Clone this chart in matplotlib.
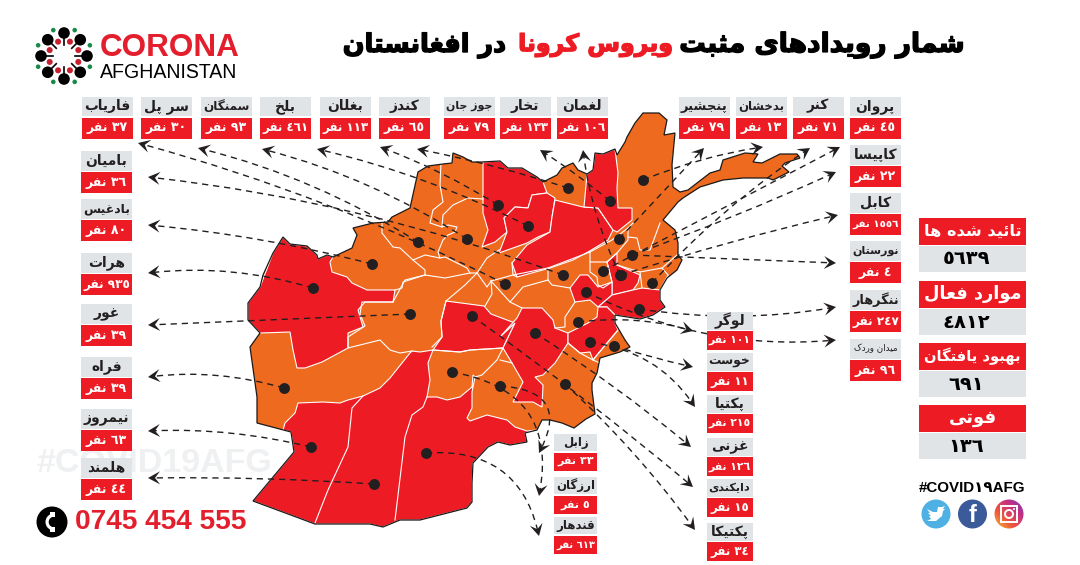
import re
import numpy as np
import matplotlib
matplotlib.use("Agg")
import matplotlib.pyplot as plt
import matplotlib.patheffects as pe
from matplotlib.colors import LinearSegmentedColormap
from matplotlib.path import Path
from matplotlib.patches import Circle, PathPatch, Polygon, Rectangle, Wedge

# ---- data ----
top_names = ['فاریاب', 'سر پل', 'سمنگان', 'بلخ', 'بغلان', 'کندز', 'جوز جان', 'تخار', 'لغمان',
             'پنجشیر', 'بدخشان', 'کنر', 'پروان']
top_cases = [37, 30, 93, 461, 113, 65, 79, 133, 106, 79, 13, 71, 45]
left_names = ['بامیان', 'بادغیس', 'هرات', 'غور', 'فراه', 'نیمروز', 'هلمند']
left_cases = [36, 80, 935, 39, 39, 63, 44]
right_names = ['کاپیسا', 'کابل', 'نورستان', 'ننگرهار', 'میدان وردک']
right_cases = [22, 1556, 4, 247, 96]
mid_names = ['لوگر', 'خوست', 'پکتیا', 'غزنی', 'دایکندی', 'پکتیکا']
mid_cases = [101, 11, 215, 126, 15, 34]
south_names = ['زابل', 'ارزگان', 'قندهار']
south_cases = [33, 5, 613]
summary_names = ['تائید شده ها', 'موارد فعال', 'بهبود یافتگان', 'فوتی']
summary_values = [5639, 4812, 691, 136]

# ---- layout, in pixels of the 1080x565 picture ----
top_x = [82, 141, 201, 260, 320, 379, 444, 500, 557, 679, 736, 793, 850]
left_y = [151, 199, 253, 304, 357, 409, 458]
right_y = [145, 193, 241, 290, 339]
mid_y = [312, 353, 395, 438, 479, 523]
south_y = [434, 477, 517]
summary_y = [218, 281, 343, 405]

RED = '#ed1c24'
ORANGE = '#ee6a1f'
GREY = '#e0e4e7'
INK = '#231f20'
GREEN = '#1a8a4a'

outline = [(248, 303), (260, 287), (263, 275), (273, 253), (283, 237), (290, 244), (307, 246), (317, 255),
           (318, 259), (327, 255), (333, 257), (352, 248), (357, 235), (353, 228), (373, 223), (388, 222),
           (392, 217), (410, 208), (418, 172), (428, 166), (443, 164), (452, 163), (453, 153), (463, 157),
           (472, 162), (482, 162), (500, 161), (508, 168), (522, 168), (537, 177), (543, 182), (557, 175),
           (562, 168), (573, 163), (578, 170), (587, 174), (593, 170), (595, 153), (603, 154), (615, 149),
           (617, 155), (625, 142), (627, 137), (635, 123), (643, 113), (659, 113), (667, 120), (664, 135),
           (675, 133), (672, 165), (673, 187), (680, 192), (688, 190), (710, 173), (720, 170), (723, 160),
           (745, 153), (758, 154), (753, 162), (762, 163), (780, 154), (797, 154), (800, 158), (785, 163),
           (782, 166), (789, 172), (773, 180), (768, 178), (743, 178), (723, 180), (700, 187), (683, 198),
           (678, 202), (663, 220), (675, 230), (678, 243), (678, 255), (682, 260), (677, 270), (667, 278),
           (660, 290), (660, 300), (665, 307), (653, 315), (640, 319), (615, 315), (615, 323), (618, 328),
           (625, 340), (630, 347), (620, 352), (600, 358), (597, 373), (592, 383), (592, 390), (595, 414),
           (586, 419), (574, 428), (562, 423), (550, 420), (542, 420), (537, 430), (525, 433), (527, 442),
           (510, 445), (498, 442), (488, 447), (473, 463), (472, 483), (472, 502), (467, 508), (420, 520),
           (400, 520), (383, 527), (370, 524), (315, 524), (253, 501), (294, 452), (291, 432), (257, 423),
           (257, 397), (250, 347), (260, 333), (248, 320)]

red_provinces = [
    # herat
    [(260, 333), (248, 320), (248, 303), (260, 287), (273, 253), (283, 237), (290, 244), (307, 246), (317, 255),
     (318, 259), (327, 255), (333, 257), (330, 262), (332, 272), (347, 277), (352, 283), (367, 290), (395, 290),
     (393, 302), (365, 302), (358, 310), (363, 327), (348, 333), (348, 348), (322, 362), (305, 368), (297, 368),
     (293, 350), (290, 332)],
    # nimroz, helmand, kandahar
    [(283, 430), (291, 432), (294, 452), (253, 501), (315, 524), (370, 524), (383, 527), (400, 520), (420, 520),
     (467, 508), (472, 502), (472, 483), (473, 463), (488, 447), (498, 442), (510, 445), (527, 442), (525, 433),
     (537, 430), (527, 431), (515, 427), (507, 420), (487, 415), (470, 421), (467, 418), (472, 408), (472, 392),
     (475, 377), (473, 375), (472, 387), (460, 397), (447, 400), (437, 397), (427, 397), (430, 380), (428, 363),
     (433, 350), (420, 352), (412, 351), (410, 353), (390, 378), (380, 388), (363, 396), (348, 400), (340, 403),
     (323, 402), (298, 403), (295, 413), (285, 423)],
    # daykundi
    [(446, 301), (484, 306), (491, 314), (515, 323), (503, 348), (470, 350), (460, 352), (433, 350), (442, 337),
     (441, 321)],
    # ghazni
    [(500, 337), (517, 318), (522, 308), (542, 308), (553, 320), (555, 328), (568, 333), (568, 343), (555, 363),
     (543, 375), (535, 377), (543, 385), (542, 407), (533, 402), (513, 402), (523, 382), (512, 363), (503, 348),
     (515, 323)],
    # balkh
    [(483, 162), (500, 161), (508, 168), (522, 168), (537, 177), (543, 182), (547, 193), (532, 195), (528, 208),
     (515, 207), (504, 218), (507, 232), (495, 242), (482, 247), (488, 230), (483, 213), (483, 193)],
    # samangan
    [(504, 218), (515, 207), (528, 208), (532, 195), (547, 193), (555, 198), (552, 217), (550, 232), (538, 237),
     (527, 243), (499, 253), (507, 232)],
    # baghlan
    [(555, 200), (563, 202), (583, 207), (598, 208), (613, 230), (608, 240), (588, 252), (573, 260), (550, 268),
     (517, 277), (512, 263), (527, 245), (550, 232), (552, 217)],
    # takhar
    [(587, 174), (593, 170), (595, 153), (603, 154), (615, 149), (618, 173), (617, 188), (618, 208), (632, 208),
     (632, 220), (617, 232), (613, 230), (598, 208), (584, 207)],
    # kabul
    [(607, 262), (617, 253), (617, 265), (640, 275), (638, 283), (633, 290), (612, 295), (612, 282)],
    # wardak
    [(570, 288), (580, 275), (588, 275), (598, 287), (612, 282), (612, 295), (598, 307), (590, 300), (575, 302)],
    # nangarhar
    [(612, 295), (633, 290), (642, 288), (660, 290), (660, 300), (665, 307), (653, 315), (640, 319), (615, 315),
     (607, 307), (598, 307)],
    # paktia
    [(568, 333), (588, 323), (597, 317), (598, 307), (607, 307), (615, 315), (615, 323), (618, 330), (597, 355),
     (593, 360), (590, 352), (580, 353), (568, 343)],
]

white_lines = [
    [(382, 222), (382, 233), (393, 247), (400, 248), (413, 260), (425, 270), (425, 275), (403, 282), (402, 288), (395, 290)],
    [(441, 163), (440, 185), (443, 202), (433, 210), (430, 223), (442, 227), (443, 215), (453, 205), (468, 198), (483, 199)],
    [(442, 227), (448, 225), (457, 227), (455, 232), (448, 235), (443, 240), (438, 252), (440, 258), (425, 255), (413, 260)],
    [(440, 258), (445, 257), (455, 262), (467, 268), (470, 273), (477, 273), (487, 258), (499, 250)],
    [(477, 273), (487, 287), (491, 281), (513, 275), (517, 277)],
    [(393, 302), (362, 302), (360, 314), (365, 326), (348, 337), (348, 348), (380, 340), (390, 350), (400, 353), (412, 351)],
    [(425, 275), (445, 278), (470, 273)],
    [(393, 302), (405, 280), (425, 275)],
    [(446, 301), (441, 321), (442, 337), (432, 347)],
    [(446, 301), (465, 285), (477, 273)],
    [(512, 263), (513, 275), (548, 268), (590, 252), (612, 240), (628, 228), (633, 223)],
    [(491, 281), (492, 294), (485, 306)],
    [(491, 281), (510, 302), (523, 287), (548, 280), (548, 268)],
    [(510, 302), (522, 308)],
    [(548, 280), (552, 285), (570, 288)],
    [(575, 302), (565, 317), (565, 327), (555, 328)],
    [(590, 252), (590, 262), (607, 262), (617, 253), (628, 240), (628, 228)],
    [(590, 262), (590, 272), (597, 277), (598, 285), (603, 288), (612, 282), (607, 262)],
    [(628, 237), (637, 238), (640, 250), (650, 250), (660, 223)],
    [(617, 265), (640, 272), (662, 268), (668, 275)],
    [(640, 272), (642, 288)],
    [(662, 268), (677, 255)],
    [(660, 290), (668, 275)],
    [(433, 350), (460, 352), (470, 350), (503, 348), (497, 360), (482, 375), (475, 377)],
    [(500, 360), (512, 363)],
    [(363, 396), (352, 408), (348, 447), (328, 490), (315, 523)],
    [(427, 397), (423, 407), (412, 415), (405, 437), (395, 520)],
    [(568, 343), (580, 353), (593, 360), (600, 363)],
    [(618, 330), (597, 355), (593, 360)],
]

# leaders: dot, arrow tip, bend
leaders = [
    ((505, 284), (138, 143), -0.05), ((563, 275), (148, 177), -0.06), ((418, 242), (198, 148), -0.08),
    ((467, 239), (262, 149), -0.08), ((528, 226), (317, 149), -0.06), ((498, 205), (380, 147), -0.05),
    ((568, 188), (417, 149), -0.03), ((610, 201), (540, 150), -0.03), ((620, 275), (583, 150), 0.08),
    ((372, 264), (148, 225), -0.04), ((313, 288), (148, 273), -0.1), ((410, 314), (148, 325), 0.0),
    ((284, 388), (148, 377), -0.1), ((311, 447), (148, 431), -0.07), ((374, 484), (148, 478), -0.02),
    ((619, 239), (704, 148), 0.0), ((643, 180), (763, 147), 0.06), ((652, 283), (810, 148), 0.06),
    ((603, 271), (840, 147), 0.0), ((632, 255), (836, 172), -0.02), ((621, 275), (838, 215), 0.02),
    ((632, 255), (836, 263), 0.0), ((639, 309), (836, 307), -0.08), ((586, 292), (836, 340), -0.14),
    ((578, 322), (693, 331), 0.1), ((614, 346), (693, 367), -0.02), ((590, 342), (695, 407), 0.22),
    ((535, 333), (691, 447), 0.03), ((472, 316), (693, 487), 0.02), ((565, 384), (695, 530), 0.05),
    ((500, 386), (539, 453), 0.75), ((452, 372), (539, 496), 0.5), ((426, 453), (539, 536), 0.42),
]
dots = sorted({lead[0] for lead in leaders})

FOUR_FORMS = {'ب': 0xFE8F, 'پ': 0xFB56, 'ت': 0xFE95, 'ث': 0xFE99, 'ج': 0xFE9D, 'چ': 0xFB7A, 'ح': 0xFEA1,
              'خ': 0xFEA5, 'س': 0xFEB1, 'ش': 0xFEB5, 'ص': 0xFEB9, 'ض': 0xFEBD, 'ط': 0xFEC1, 'ظ': 0xFEC5,
              'ع': 0xFEC9, 'غ': 0xFECD, 'ف': 0xFED1, 'ق': 0xFED5, 'ک': 0xFB8E, 'گ': 0xFB92, 'ل': 0xFEDD,
              'م': 0xFEE1, 'ن': 0xFEE5, 'ه': 0xFEE9, 'ی': 0xFBFC, 'ئ': 0xFE89}
TWO_FORMS = {'ا': 0xFE8D, 'د': 0xFEA9, 'ذ': 0xFEAB, 'ر': 0xFEAD, 'ز': 0xFEAF, 'ژ': 0xFB8A, 'و': 0xFEED, 'آ': 0xFE81}


def shape(text):
    # matplotlib has no arabic shaping, so pick the joined forms and reverse by hand
    out = []
    for i, ch in enumerate(text):
        before = text[i - 1] if i > 0 else ''
        after = text[i + 1] if i + 1 < len(text) else ''
        joined = before in FOUR_FORMS
        if ch in TWO_FORMS:
            out.append(chr(TWO_FORMS[ch] + (1 if joined else 0)))
        elif ch in FOUR_FORMS:
            goes_on = after in FOUR_FORMS or after in TWO_FORMS
            form = {(False, False): 0, (True, False): 1, (False, True): 2, (True, True): 3}[(joined, goes_on)]
            out.append(chr(FOUR_FORMS[ch] + form))
        else:
            out.append(ch)
    return re.sub('[٠-٩]+', lambda m: m.group()[::-1], ''.join(out)[::-1])


def arabic_digits(value):
    return str(value).translate(str.maketrans('0123456789', '٠١٢٣٤٥٦٧٨٩'))


fig = plt.figure(figsize=(10.8, 5.65), dpi=100)
ax = fig.add_axes([0, 0, 1, 1])
ax.set_xlim(0, 1080)
ax.set_ylim(565, 0)
ax.axis('off')
renderer = fig.canvas.get_renderer()


def fit(label, width):
    label.set_fontsize(label.get_fontsize() * width / label.get_window_extent(renderer).width)


def cap(label, width):
    # only shrink, for names that would run out of their box
    if label.get_window_extent(renderer).width > width:
        fit(label, width)


def label_box(x, y, w, h1, h2, name, cases, name_size=10.0, name_weight='bold', case_size=9.0):
    ax.add_patch(Rectangle((x, y), w, h1, fc=GREY, ec='none', zorder=5))
    ax.add_patch(Rectangle((x, y + h1 + 1.5), w, h2, fc=RED, ec='none', zorder=5))
    t = ax.text(x + w / 2, y + h1 / 2, shape(name), ha='center', va='center', fontsize=name_size,
                fontweight=name_weight, color=INK, zorder=6)
    cap(t, w - 4)
    t = ax.text(x + w / 2, y + h1 + 1.5 + h2 / 2, shape(arabic_digits(cases) + ' نفر'), ha='center', va='center',
                fontsize=case_size, fontweight='bold', color='white', zorder=6)
    cap(t, w - 4)


def leader(start, tip, bend):
    start, tip = np.array(start, float), np.array(tip, float)
    gap = tip - start
    ctrl = (start + tip) / 2 + bend * np.array([gap[1], -gap[0]])
    direction = (tip - ctrl) / np.linalg.norm(tip - ctrl)
    side = np.array([-direction[1], direction[0]])
    neck = tip - direction * 6
    ax.add_patch(PathPatch(Path([start, ctrl, neck], [Path.MOVETO, Path.CURVE3, Path.CURVE3]), fc='none', ec=INK,
                           lw=1.0, ls=(0, (4.5, 3.5)), zorder=3))
    head = [tip, tip - direction * 12 + side * 6.5, tip - direction * 7, tip - direction * 12 - side * 6.5]
    ax.add_patch(Polygon(head, closed=True, fc=INK, ec='none', zorder=4))


# watermark sits under the map
mark = ax.text(36, 464, '#COVID19AFG', fontsize=20, fontweight='bold', family='Liberation Sans', color='#eff0f1',
               va='center', zorder=1)
fit(mark, 236)

# map
ax.add_patch(Polygon(outline, closed=True, fc=ORANGE, ec='none', zorder=2))
for province in red_provinces:
    ax.add_patch(Polygon(province, closed=True, fc=RED, ec='white', lw=0.8, zorder=2.1))
for line in white_lines:
    ax.plot(*zip(*line), color='white', lw=0.8, zorder=2.2, solid_joinstyle='round')
ax.add_patch(Polygon(outline, closed=True, fc='none', ec='#1a1a1a', lw=0.9, zorder=2.3))
ax.scatter(*zip(*dots), s=62, color=INK, linewidths=0, zorder=3.5)

for lead in leaders:
    leader(*lead)

# title, three runs because of the red words
for text, left, right, colour in [('شمار رویدادهای مثبت', 680, 965, 'black'), ('ویروس کرونا', 518, 673, RED),
                                  ('در افغانستان', 343, 506, 'black')]:
    t = ax.text((left + right) / 2, 45, shape(text), ha='center', va='center', fontsize=22, fontweight='bold',
                color=colour, path_effects=[pe.withStroke(linewidth=1.0, foreground=colour)])
    fit(t, right - left)

# logo
centre = np.array([64, 56])
for k in range(8):
    a = np.deg2rad(45 * k - 90)
    unit = np.array([np.cos(a), np.sin(a)])
    ax.plot(*zip(centre + unit * 11, centre + unit * 23), color='black', lw=1.2, zorder=5)
    ax.add_patch(Circle(centre + unit * 23, 5.8, fc='black', ec='none', zorder=6))
    b = a + np.deg2rad(22.5)
    unit = np.array([np.cos(b), np.sin(b)])
    ax.add_patch(Circle(centre + unit * 15.5, 3.0, fc='#c8202f', ec='none', zorder=6))
    ax.add_patch(Circle(centre + unit * 28, 2.3, fc=GREEN, ec='none', zorder=6))
corona = ax.text(100, 48, 'CORONA', fontsize=24, fontweight='bold', family='Liberation Sans', color='#e31e2d', va='center')
fit(corona, 140)
afg = ax.text(100, 72, 'AFGHANISTAN', fontsize=13, family='Liberation Sans', color='black', va='center')
fit(afg, 137)

# phone
ax.add_patch(Circle((52, 522), 15.5, fc='black', ec='none'))
ax.add_patch(Wedge((54, 522), 8.5, 110, 250, width=3.2, fc='white', ec='none'))
ax.add_patch(Rectangle((50, 512), 5, 5, fc='white', ec='none'))
ax.add_patch(Rectangle((50, 527), 5, 5, fc='white', ec='none'))
phone = ax.text(75, 522, '0745 454 555', fontsize=18, fontweight='bold', family='Liberation Sans', color='#e31e2d', va='center')
fit(phone, 171)

# province boxes
for x, name, cases in zip(top_x, top_names, top_cases):
    label_box(x, 96.5, 50.5, 19.5, 21, name, cases)
for y, name, cases in zip(left_y, left_names, left_cases):
    label_box(81, y, 51, 19.5, 20.5, name, cases)
for y, name, cases in zip(right_y, right_names, right_cases):
    small = name == right_names[-1]
    label_box(850, y, 51, 19.5, 20.5, name, cases, name_size=6.3 if small else 10.0,
              name_weight='normal' if small else 'bold')
for y, name, cases in zip(mid_y, mid_names, mid_cases):
    label_box(706.5, y, 46, 17.5, 19, name, cases, case_size=8.5)
for y, name, cases in zip(south_y, south_names, south_cases):
    label_box(554, y, 43, 17, 18, name, cases, name_size=8.5, case_size=8)

# totals
for y, name, value in zip(summary_y, summary_names, summary_values):
    ax.add_patch(Rectangle((919, y), 107, 27, fc=RED, ec='none'))
    ax.add_patch(Rectangle((919, y + 28), 107, 26, fc=GREY, ec='none'))
    t = ax.text(972.5, y + 13, shape(name), ha='center', va='center', fontsize=13, fontweight='bold', color='white')
    cap(t, 97)
    ax.text(966, y + 41, arabic_digits(value), ha='center', va='center', fontsize=14, fontweight='bold', color='black')

# social
tag = ax.text(972.5, 488, '#COVID١٩AFG', ha='center', va='center', fontsize=10.5, fontweight='bold',
              family=['Liberation Sans', 'DejaVu Sans'], color='black')
fit(tag, 107)
ax.add_patch(Circle((936, 514), 14.5, fc='#4fb0e3', ec='none'))
bird = np.array([(-9, -5), (-3, -2), (1, -2), (2, -7), (6, -7), (9, -8), (7, -5), (9, -5), (7, -3), (6, 2), (0, 7),
                 (-9, 7), (-5, 5), (-7, 2), (-5, 2), (-8, -1), (-6, -1)])
ax.add_patch(Polygon(bird + (936, 514), closed=True, fc='white', ec='none', zorder=3))
ax.add_patch(Circle((972.5, 514), 14.5, fc='#3b5a9a', ec='none'))
ax.text(973, 515, 'f', ha='center', va='center', fontsize=17, fontweight='bold', family='Liberation Sans', color='white')

insta = Circle((1009, 514), 14.5, transform=ax.transData, fc='none', ec='none')
ax.add_patch(insta)
gx, gy = np.meshgrid(np.linspace(0, 1, 40), np.linspace(0, 1, 40))
glow = LinearSegmentedColormap.from_list('insta', ['#f9c23c', '#ee5a3a', '#c8307f', '#7a3db8'])
ax.imshow((gx + (1 - gy)) / 2, cmap=glow, extent=(994, 1024, 529, 499), aspect='auto', clip_path=insta, zorder=3)
ax.set_xlim(0, 1080)
ax.set_ylim(565, 0)
ax.add_patch(Rectangle((1001, 506), 16, 16, fc='none', ec='white', lw=1.4, zorder=4))
ax.add_patch(Circle((1009, 514), 4, fc='none', ec='white', lw=1.4, zorder=4))
ax.add_patch(Circle((1014, 509), 1, fc='white', ec='none', zorder=4))

fig.savefig('out.png', dpi=100)
